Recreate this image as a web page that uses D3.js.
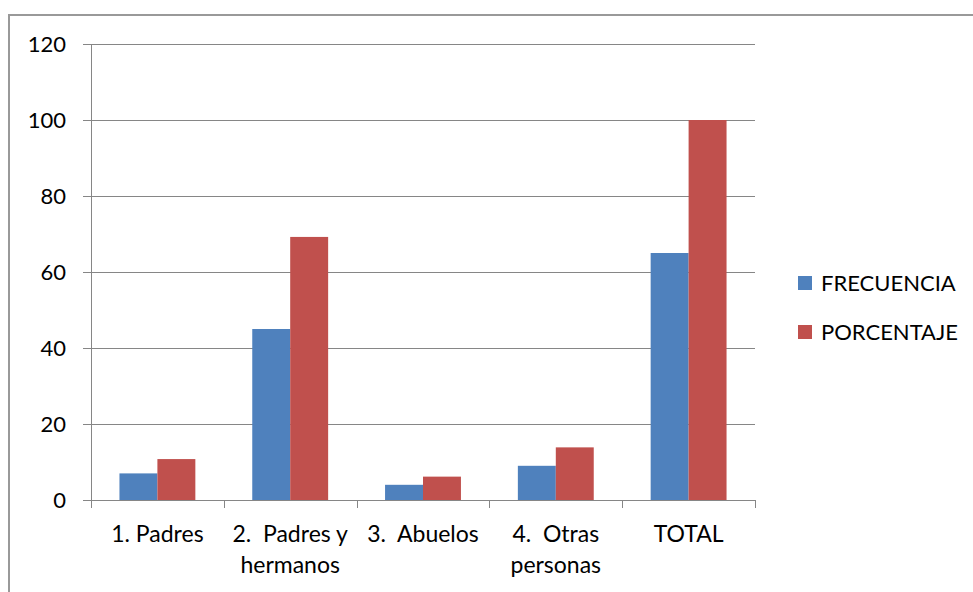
<!DOCTYPE html>
<html><head><meta charset="utf-8">
<script src="https://cdn.jsdelivr.net/npm/d3@7"></script>
<style>html,body{margin:0;padding:0;background:#fff;}svg{display:block;}</style>
</head><body>
<svg id="c" width="973" height="592"></svg>
<script>
const categories = [["1. Padres"], ["2.  Padres y", "hermanos"], ["3.  Abuelos"], ["4.  Otras", "personas"], ["TOTAL"]];
const frecuencia = [7, 45, 4, 9, 65];
const porcentaje = [10.77, 69.23, 6.15, 13.85, 100];
const seriesNames = ["FRECUENCIA", "PORCENTAJE"];
const seriesColors = ["#4F81BD", "#C0504D"];
const yTicks = [0, 20, 40, 60, 80, 100, 120];

const font = "Lato, 'Open Sans', sans-serif";
const svg = d3.select("#c");
svg.append("rect").attr("x", 9).attr("y", 15).attr("width", 980).attr("height", 600)
  .attr("fill", "#fff").attr("stroke", "#999").attr("stroke-width", 2);

const L = 91, R = 755, T = 44, B = 500;
const x = d3.scaleBand().domain(d3.range(categories.length)).range([L, R]).paddingInner(0).paddingOuter(0);
const inner = d3.scaleBand().domain([0, 1]).range([0, x.bandwidth()]).paddingOuter(0.75).paddingInner(0);
const y = d3.scaleLinear().domain([0, 120]).range([B, T]);

const g = svg.append("g");
// gridlines
g.selectAll("line.grid").data(yTicks).enter().append("line")
  .attr("x1", L - 8).attr("x2", R).attr("y1", d => Math.round(y(d)) + 0.5).attr("y2", d => Math.round(y(d)) + 0.5)
  .attr("stroke", "#868686").attr("stroke-width", 1);
// y axis line
g.append("line").attr("x1", L + 0.5).attr("x2", L + 0.5).attr("y1", T).attr("y2", B + 8).attr("stroke", "#868686");
// x ticks
g.selectAll("line.xt").data(d3.range(categories.length + 1)).enter().append("line")
  .attr("x1", i => Math.round(L + i * x.bandwidth()) + 0.5).attr("x2", i => Math.round(L + i * x.bandwidth()) + 0.5)
  .attr("y1", B).attr("y2", B + 8).attr("stroke", "#868686");
// y labels
g.selectAll("text.yl").data(yTicks).enter().append("text")
  .attr("x", 66).attr("y", d => y(d) + 8).attr("text-anchor", "end")
  .attr("font-family", font).attr("font-size", 22).attr("fill", "#000").text(d => d);

// bars
const data = [frecuencia, porcentaje];
data.forEach((vals, s) => {
  g.selectAll("rect.s" + s).data(vals).enter().append("rect")
    .attr("x", (d, i) => x(i) + inner(s)).attr("width", inner.bandwidth())
    .attr("y", d => y(d)).attr("height", d => B - y(d)).attr("fill", seriesColors[s]);
});
// redraw baseline over bars
g.append("line").attr("x1", L - 8).attr("x2", R).attr("y1", B + 0.5).attr("y2", B + 0.5).attr("stroke", "#868686");

// x labels
categories.forEach((lines, i) => {
  const t = g.append("text").attr("text-anchor", "middle").attr("font-family", font).attr("font-size", 23).attr("fill", "#000")
    .attr("xml:space", "preserve").style("white-space", "pre");
  lines.forEach((ln, j) => {
    t.append("tspan").attr("x", x(i) + x.bandwidth() / 2).attr("y", 542 + j * 31).text(ln);
  });
});

// legend
seriesNames.forEach((n, s) => {
  const ly = 276 + s * 49;
  svg.append("rect").attr("x", 798).attr("y", ly).attr("width", 14).attr("height", 14).attr("fill", seriesColors[s]);
  svg.append("text").attr("x", 821).attr("y", ly + 15).attr("font-family", font).attr("font-size", 22).attr("fill", "#000").text(n);
});
</script>
</body></html>
